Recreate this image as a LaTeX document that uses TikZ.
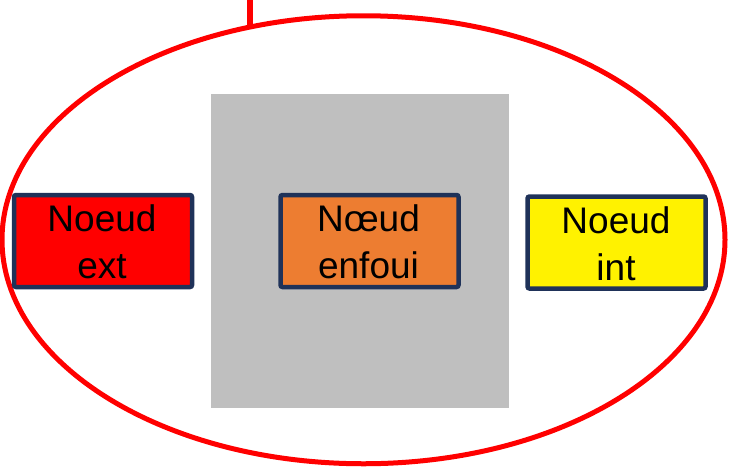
\documentclass[tikz,border=0pt]{standalone}
\usepackage{fontspec}
\setmainfont{Liberation Sans}
\usetikzlibrary{shapes.geometric}
\definecolor{navyb}{HTML}{1F3259}
\definecolor{orangeb}{HTML}{ED7D31}
\definecolor{grayb}{HTML}{BFBFBF}
\tikzset{
  nodebox/.style={draw=navyb, line width=4.5pt, rounded corners=2pt, minimum width=178pt, minimum height=92pt, inner sep=0pt},
  lbl/.style={anchor=base, inner sep=0pt, font=\fontsize{37}{46}\selectfont, text=black},
  redline/.style={draw=red, line width=5pt}
}
\begin{document}
\begin{tikzpicture}[x=1pt,y=-1pt]
\useasboundingbox (0,0) rectangle (730,469);
\node[ellipse, redline, minimum width=723pt, minimum height=448pt, inner sep=0pt] (ell) at (363.5,239.75) {};
\coordinate (top) at (250,0);
\coordinate (meet) at (250,25);
\draw[red, line width=5.5pt] (top) -- (meet);
\node[fill=grayb, minimum width=298pt, minimum height=314pt, inner sep=0pt] (gray) at (360,251) {};
\node[nodebox, fill=red] (ext) at (103,241) {};
\node[nodebox, fill=orangeb] (enf) at (369.5,241) {};
\node[nodebox, fill=yellow] (int) at (616.5,242.5) {};
\node[lbl] (ext1) at (102,231.7) {Noeud};
\node[lbl] (ext2) at (102,278) {ext};
\node[lbl] (enf1) at (368.5,231.7) {Nœud};
\node[lbl] (enf2) at (368.5,278) {enfoui};
\node[lbl] (int1) at (616,233.3) {Noeud};
\node[lbl] (int2) at (616,280) {int};
\end{tikzpicture}
\end{document}
